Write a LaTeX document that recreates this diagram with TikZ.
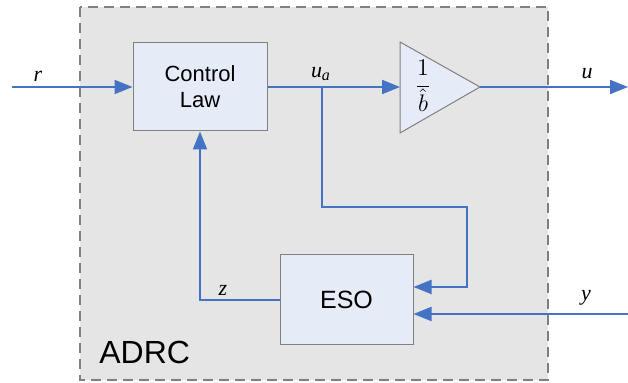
\documentclass[tikz,border=0pt]{standalone}
\usepackage{fontspec}
\setmainfont{Liberation Serif}
\setsansfont{Liberation Sans}
\usepackage{tikz}
\usetikzlibrary{arrows.meta,positioning,shapes.geometric,calc}
\definecolor{adrcblue}{HTML}{4472C4}
\definecolor{adrcfill}{HTML}{E6ECF7}
\definecolor{adrcgray}{HTML}{E5E5E5}
\tikzset{
adrcframe/.style={draw=gray,fill=adrcgray,line width=1pt,dash pattern=on 5pt off 3pt},
adrcblock/.style={rectangle,draw=gray,fill=adrcfill,line width=0.5pt,align=center,inner sep=0pt,font=\sffamily\fontsize{11}{13}\selectfont},
adrcgain/.style={draw=gray,fill=adrcfill,line width=0.5pt},
adrcarr/.style={-{Triangle[length=9pt,width=7pt]},adrcblue,line width=1pt},
adrcsig/.style={font=\fontsize{11}{13}\selectfont\itshape,inner sep=0pt}
}
\begin{document}
\begin{tikzpicture}[x=0.5pt,y=-0.5pt]
\useasboundingbox (0,0) rectangle (628,383);
\draw[adrcframe] (80,7) rectangle (548,380);
\node[adrcblock,minimum width=67pt,minimum height=44pt]
  (ctrl) at (200,87) {Control\\Law};
\node[adrcblock,minimum width=66.5pt,minimum height=45pt,font=\sffamily\fontsize{12.5}{14}\selectfont]
  (eso) at (346.5,300) {ESO};
% gain triangle
\coordinate (gainin) at (400,87);
\coordinate (gainout) at (480,87);
\draw[adrcgain] (400,42) -- (gainout) -- (400,133) -- cycle;
\node[inner sep=0pt,font=\fontsize{12}{14}\selectfont] (gain) at (423,89) {$\displaystyle\frac{1}{\mathstrut\hat{b}}$};
\node[font=\sffamily\fontsize{16}{18}\selectfont,anchor=base west,inner sep=0pt]
  (adrc) at (99,364) {ADRC};
\coordinate (rin) at (12,87);
\coordinate (ua) at (322,87);
\coordinate (uout) at (628,87);
\coordinate (yin) at (628,314);
\coordinate (turn) at (467,207);
\coordinate (zcorner) at (200,300);
% signal paths
\draw[adrcarr] (rin) -- (ctrl.west);
\draw[adrcarr] (ctrl.east) -- (gainin);
\draw[adrcarr] (gainout) -- (uout);
\draw[adrcarr] (ua) |- (turn) |- ($(eso.east)+(0,-13)$);
\draw[adrcarr] (yin) -- (eso.east |- yin);
\draw[adrcarr] (eso.west) -- (zcorner) -- (ctrl.south);
% labels
\node[adrcsig] (rlab) at (38,76) {r};
\node[adrcsig] (ualab) at (321,74) {u\textsubscript{\fontsize{8}{9}\selectfont a}};
\node[adrcsig] (ulab) at (587,74) {u};
\node[adrcsig] (ylab) at (586,298) {y};
\node[adrcsig] (zlab) at (223,290) {z};
\end{tikzpicture}
\end{document}
